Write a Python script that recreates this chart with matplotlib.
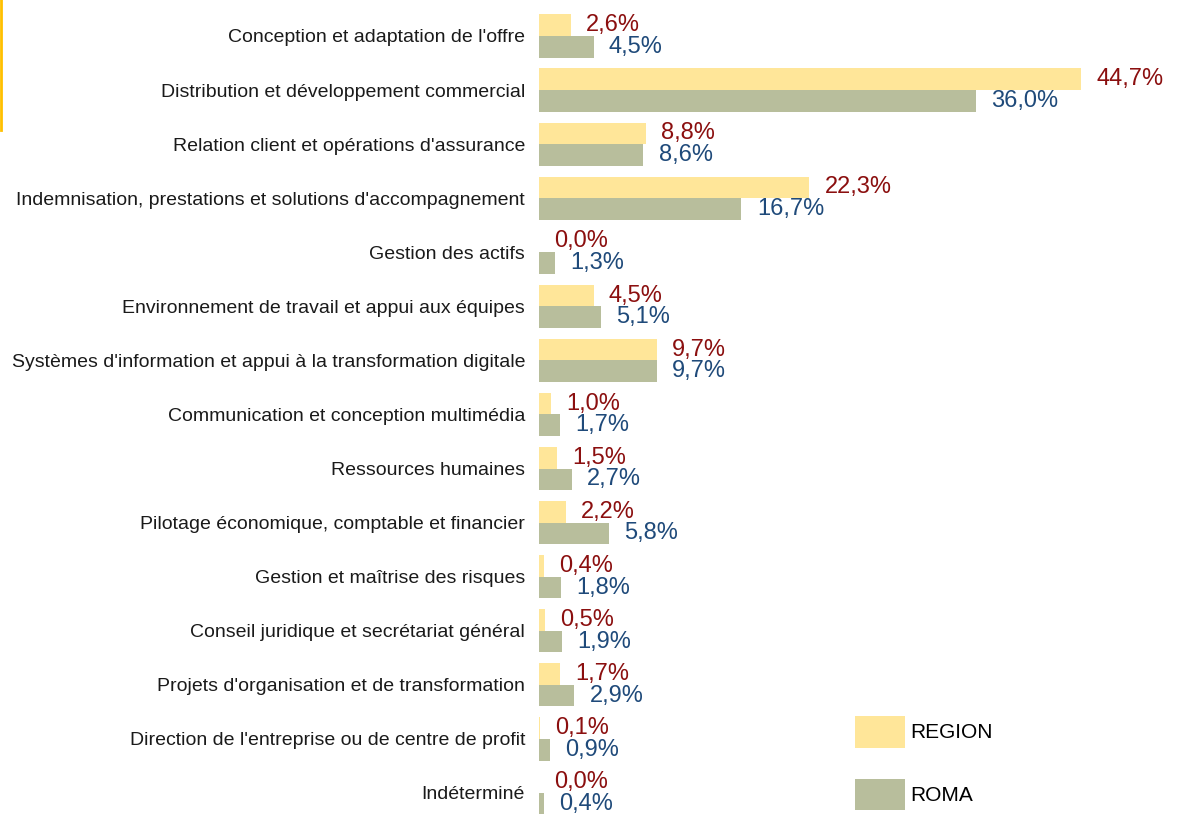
import numpy as np
import matplotlib
matplotlib.use("Agg")
import matplotlib.pyplot as plt
from matplotlib.lines import Line2D

# Data
categories = [
    "Conception et adaptation de l'offre",
    "Distribution et développement commercial",
    "Relation client et opérations d'assurance",
    "Indemnisation, prestations et solutions d'accompagnement",
    "Gestion des actifs",
    "Environnement de travail et appui aux équipes",
    "Systèmes d'information et appui à la transformation digitale",
    "Communication et conception multimédia",
    "Ressources humaines",
    "Pilotage économique, comptable et financier",
    "Gestion et maîtrise des risques",
    "Conseil juridique et secrétariat général",
    "Projets d'organisation et de transformation",
    "Direction de l'entreprise ou de centre de profit",
    "Indéterminé",
]
region = [2.6, 44.7, 8.8, 22.3, 0.0, 4.5, 9.7, 1.0, 1.5, 2.2, 0.4, 0.5, 1.7, 0.1, 0.0]
roma = [4.5, 36.0, 8.6, 16.7, 1.3, 5.1, 9.7, 1.7, 2.7, 5.8, 1.8, 1.9, 2.9, 0.9, 0.4]
series_names = ["REGION", "ROMA"]

col_region = "#FFE699"
col_roma = "#B8BE9C"
txt_region = "#8B0F0F"
txt_roma = "#1F4A7A"

font = ["Liberation Sans", "DejaVu Sans"]

fig = plt.figure(figsize=(11.78, 8.14), dpi=100)
ax = fig.add_axes([539 / 1178, 0, 1 - 539 / 1178, 1])

y = np.arange(len(categories))
h = 0.4
ax.barh(y - h / 2, region, height=h, color=col_region, label=series_names[0])
ax.barh(y + h / 2, roma, height=h, color=col_roma, label=series_names[1])

# value labels, just right of each bar
for i in range(len(categories)):
    ax.annotate(f"{region[i]:.1f}%".replace(".", ","), (region[i], y[i] - h / 2),
                xytext=(11, 0), textcoords="offset points", va="center", ha="left",
                color=txt_region, fontsize=17, family=font)
    ax.annotate(f"{roma[i]:.1f}%".replace(".", ","), (roma[i], y[i] + h / 2),
                xytext=(11, 0), textcoords="offset points", va="center", ha="left",
                color=txt_roma, fontsize=17, family=font)

ax.set_xlim(0, (1178 - 539) / 12.125)
ax.set_ylim((814 - 36) / 54.07, -36 / 54.07)
ax.set_yticks(y)
ax.set_yticklabels(categories, fontsize=14, family=font, color="#1a1a1a")
ax.tick_params(axis="y", length=0, pad=10)
ax.set_xticks([])
for s in ax.spines.values():
    s.set_visible(False)

leg = ax.legend(loc="upper left", bbox_to_anchor=(855 / 1178, 1 - 716 / 814),
                bbox_transform=fig.transFigure, frameon=False, borderpad=0,
                borderaxespad=0, handlelength=2.4, handleheight=1.95,
                labelspacing=1.5, handletextpad=0.25, prop={"family": font, "size": 15})

# yellow bar on the left edge
fig.add_artist(Line2D([0.001, 0.001], [1, 1 - 130 / 814], color="#FFC000",
                      linewidth=2, transform=fig.transFigure))

fig.savefig("out.png", dpi=100)
